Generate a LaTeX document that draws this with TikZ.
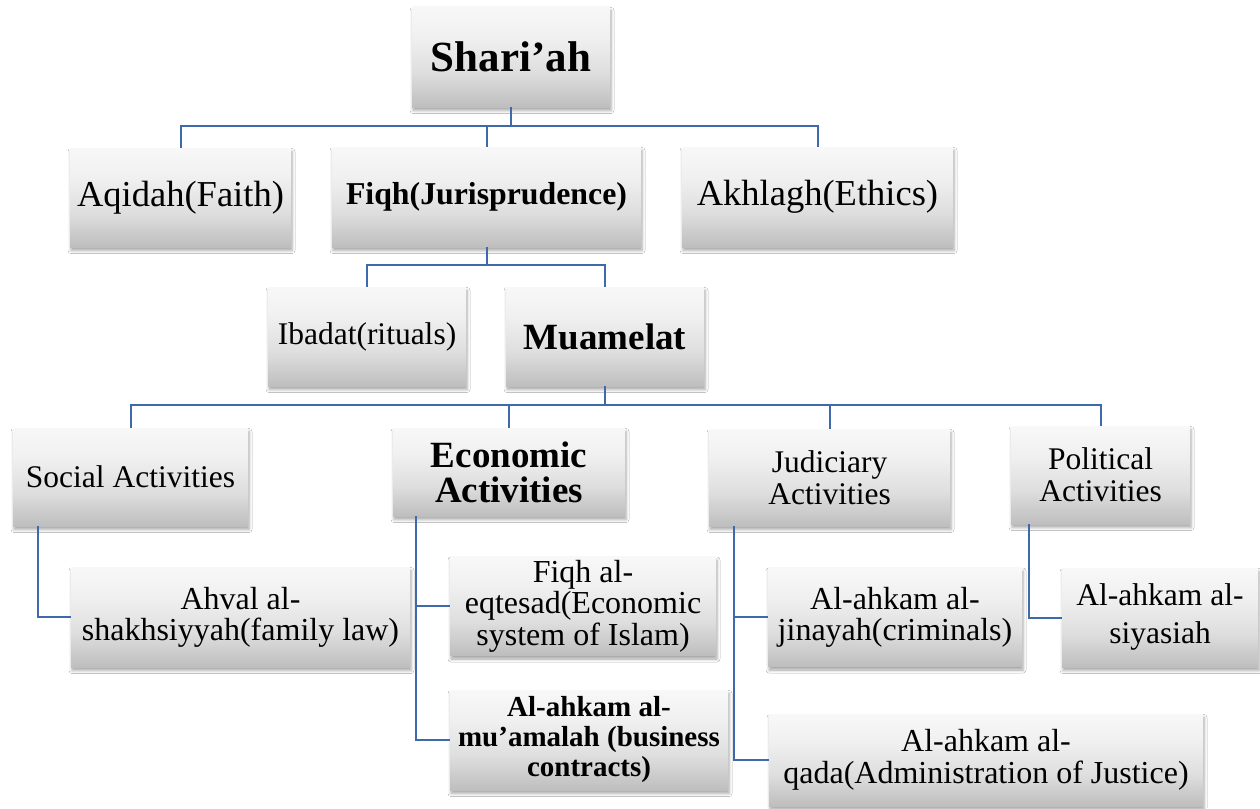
\documentclass[tikz,border=0pt]{standalone}
\usepackage{fontspec}
\setmainfont{Liberation Serif}
\usetikzlibrary{shadows.blur,calc}

\definecolor{linkblue}{RGB}{62,106,170}
\definecolor{bxD}{RGB}{190,190,190}
\definecolor{bxM}{RGB}{222,222,222}
\definecolor{bxN}{RGB}{240,240,240}
\definecolor{bxL}{RGB}{248,248,248}

% light-to-grey vertical gradient used for every box
\pgfdeclareverticalshading{boxfill}{100bp}{%
  color(0bp)=(bxD); color(25bp)=(bxD); color(42bp)=(bxM);
  color(60bp)=(bxN); color(75bp)=(bxL); color(100bp)=(bxL)}

\newcommand{\fsz}[2]{\fontsize{#1}{#2}\selectfont}

\begin{document}
\begin{tikzpicture}[x=1pt,y=-1pt,
  box/.style={shade, shading=boxfill, draw=none, inner sep=2pt,
    align=center, text=black,
    blur shadow={shadow xshift=1pt, shadow yshift=-3.5pt,
      shadow blur radius=3pt, shadow opacity=35}},
  link/.style={draw=linkblue, line width=2pt}]

\fill[white] (0,0) rectangle (1260,808);
\useasboundingbox (0,0) rectangle (1260,808);

% level 1
\node[box, minimum width=198pt, minimum height=100pt, font=\bfseries\fsz{43}{43}] (sh) at (511,57) {Shari’ah};

% level 2
\node[box, minimum width=221pt, minimum height=99pt, font=\fsz{36.5}{36}] (aq) at (180.5,197.5) {Aqidah(Faith)};
\node[box, minimum width=309pt, minimum height=100pt, font=\bfseries\fsz{31.8}{32}] (fq) at (486.5,197) {Fiqh(Jurisprudence)};
\node[box, minimum width=271pt, minimum height=100pt, font=\fsz{36.5}{36}] (ak) at (817.5,197) {Akhlagh(Ethics)};

% level 3
\node[box, minimum width=198pt, minimum height=99pt, font=\fsz{31.5}{32}] (ib) at (367,336.5) {Ibadat(rituals)};
\node[box, minimum width=198pt, minimum height=99pt, font=\bfseries\fsz{37}{37}] (mu) at (605,336.5) {Muamelat};

% level 4
\node[box, minimum width=235pt, minimum height=98pt, font=\fsz{31.5}{32}] (so) at (130.5,477) {Social Activities};
\node[box, minimum width=232pt, minimum height=88pt, font=\bfseries\fsz{37}{35}] (ec) at (509,472) {Economic\\Activities};
\node[box, minimum width=241pt, minimum height=97pt, font=\fsz{31.5}{32}] (ju) at (829.5,477.5) {Judiciary\\Activities};
\node[box, minimum width=179pt, minimum height=98pt, font=\fsz{31.5}{32}] (po) at (1100.5,475) {Political\\Activities};

% level 5
\node[box, minimum width=339pt, minimum height=100pt, font=\fsz{32}{31}] (ah) at (240.5,617) {Ahval al-\\shakhsiyyah(family law)};
\node[box, minimum width=266pt, minimum height=99pt, font=\fsz{32}{31.5}] (fe) at (583,606) {Fiqh al-\\eqtesad(Economic\\system of Islam)};
\node[box, minimum width=278pt, minimum height=100pt, font=\bfseries\fsz{29}{30}] (am) at (589,740) {Al-ahkam al-\\mu’amalah (business\\contracts)};
\node[box, minimum width=254pt, minimum height=99pt, font=\fsz{32}{31}] (ji) at (895,617) {Al-ahkam al-\\jinayah(criminals)};
\node[box, minimum width=434pt, minimum height=92pt, font=\fsz{32}{32}] (qa) at (986,760) {Al-ahkam al-\\qada(Administration of Justice)};
\node[box, minimum width=196pt, minimum height=99pt, font=\fsz{31.5}{36}] (si) at (1160,617.5) {\raisebox{8pt}{\begin{tabular}{@{}c@{}}Al-ahkam al-\\[2pt]siyasiah\end{tabular}}};

% bus levels
\coordinate (bus1) at (0,126);
\coordinate (bus2) at (0,265);
\coordinate (bus3) at (0,405);

% Shari'ah -> level 2
\draw[link] (sh.south) -- (sh.south |- bus1) -| (aq.north);
\draw[link] (sh.south |- bus1) -| (fq.north);
\draw[link] (sh.south |- bus1) -| (ak.north);

% Fiqh -> level 3
\draw[link] (fq.south) -- (fq.south |- bus2) -| (ib.north);
\draw[link] (fq.south |- bus2) -| (mu.north);

% Muamelat -> level 4
\draw[link] (mu.south) -- (mu.south |- bus3) -| (so.north);
\draw[link] (mu.south |- bus3) -| (ec.north);
\draw[link] (mu.south |- bus3) -| (ju.north);
\draw[link] (mu.south |- bus3) -| (po.north);

% level 4 -> level 5 (elbow links from the left side of each parent)
\coordinate (soT) at ($(so.south west)+(25,0)$);
\coordinate (ecT) at ($(ec.south west)+(23,0)$);
\coordinate (juT) at ($(ju.south west)+(25,0)$);
\coordinate (poT) at ($(po.south west)+(18,0)$);

\draw[link] (soT) |- (ah.west);
\draw[link] (ecT) |- (fe.west);
\draw[link] (ecT) |- (am.west);
\draw[link] (juT) |- (ji.west);
\draw[link] (juT) |- (qa.west);
\draw[link] (poT) |- (si.west);

\end{tikzpicture}
\end{document}
